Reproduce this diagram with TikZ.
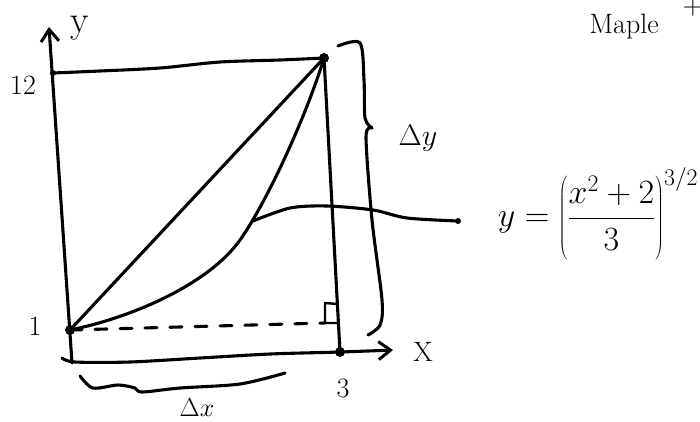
\RequirePackage{fix-cm}
\documentclass[tikz,border=0pt]{standalone}
\usetikzlibrary{arrows.meta}
\begin{document}
\begin{tikzpicture}[x=1pt,y=-1pt,
  ink/.style={line width=3.1pt, line cap=round, line join=round},
  dotmark/.style={circle, fill=black, inner sep=0pt, minimum size=10pt},
  smalldot/.style={circle, fill=black, inner sep=0pt, minimum size=6pt},
  lbl/.style={inner sep=0pt, font=\fontsize{28}{28}\selectfont},
  tipend/.style={-{Straight Barb[length=12pt,width=18pt,line width=3pt]}}
]
\useasboundingbox (0,0) rectangle (700,421);
\fill[white] (0,0) rectangle (700,421);

% points
\node[dotmark] (A) at (70,330) {};
\node[dotmark] (B) at (324,58) {};
\node[dotmark] (C) at (340,352) {};
\node[smalldot] (T) at (53,73) {};
\node[smalldot] (E) at (458,221) {};
\coordinate (ytop) at (49,27);
\coordinate (ybot) at (72,363);
\coordinate (xleft) at (62,358);
\coordinate (xtip) at (393,350);
\coordinate (M) at (240,240);
\coordinate (P) at (253,221);
\coordinate (R) at (325,323);

% axes
\draw[ink,tipend] (ybot) -- (ytop);
\draw[ink,tipend] plot[smooth] coordinates {(xleft) (75,362) (130,362) (200,358) (270,354) (C) (xtip)};

% level line y=12
\draw[ink] plot[smooth] coordinates {(T) (100,71) (160,68) (220,62) (280,60) (B)};

% chord and curve
\draw[ink] (A.center) -- (B.center);
\draw[ink] (A.center) .. controls (130,318) and (208,285) .. (M)
                      .. controls (265,205) and (305,120) .. (B.center);

% vertical at x=3
\draw[ink] (B.center) -- (C.center);

% dashed horizontal and right angle
\draw[ink, dash pattern=on 12pt off 13pt] (A.center) -- (R);
\draw[ink, line width=2.4pt] (338,304) -- (325,303) -- (R) -- (338,323);

% annotation leader
\draw[ink] plot[smooth] coordinates {(P) (290,208) (327,206) (373,210) (407,218) (E)};

% brace Delta y
\draw[ink] plot[smooth] coordinates {(338,46) (360,43) (364,80) (365,118) (372,128)};
\draw[ink] plot[smooth] coordinates {(372,128) (366,137) (372,220) (382,300) (380,325) (368,335)};

% brace Delta x
\draw[ink] plot[smooth] coordinates {(80,376) (93,388) (118,385) (135,388) (142,392) (180,388) (240,384) (285,373)};

% labels
\node[lbl, font=\fontsize{38}{38}\selectfont] (ly) at (80,28) {y};
\node[lbl] (l12) at (23,85) {12};
\node[lbl] (l1) at (35,326) {1};
\node[lbl] (l3) at (343,388) {3};
\node[lbl] (lx) at (423,352) {X};
\node[lbl, font=\fontsize{30}{30}\selectfont] (ldy) at (418,138) {$\Delta y$};
\node[lbl, font=\fontsize{26}{26}\selectfont] (ldx) at (197,408) {$\Delta x$};
\node[lbl] (maple) at (624,27) {Maple};
\node[lbl] (plus) at (693,8) {+};
\node[lbl, font=\fontsize{34}{34}\selectfont] (formula) at (598,214) {$\displaystyle y=\left(\frac{x^2+2}{3}\right)^{3/2}$};
\end{tikzpicture}
\end{document}
